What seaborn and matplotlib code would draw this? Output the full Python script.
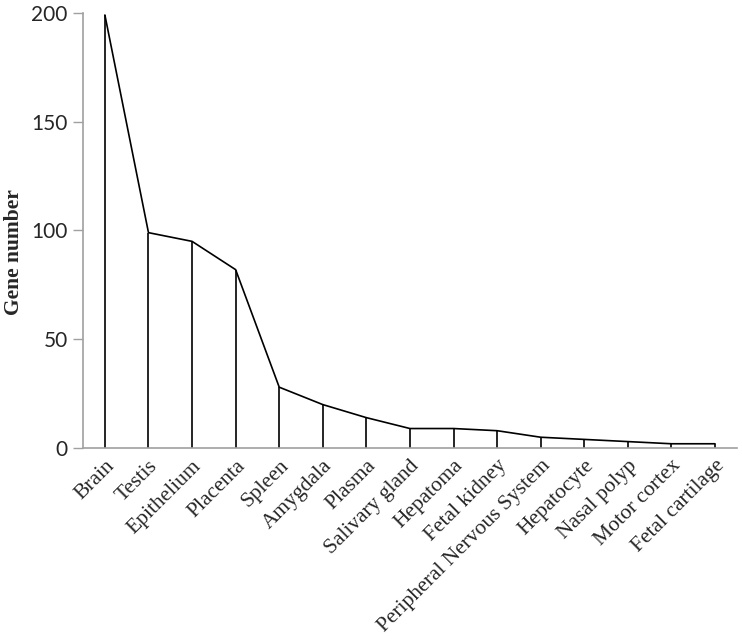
import numpy as np
import seaborn as sns
import matplotlib.pyplot as plt

tissues = ['Brain', 'Testis', 'Epithelium', 'Placenta', 'Spleen', 'Amygdala', 'Plasma',
           'Salivary gland', 'Hepatoma', 'Fetal kidney', 'Peripheral Nervous System',
           'Hepatocyte', 'Nasal polyp', 'Motor cortex', 'Fetal cartilage']
genes = [199, 99, 95, 82, 28, 20, 14, 9, 9, 8, 5, 4, 3, 2, 2]
y_ticks = [0, 50, 100, 150, 200]

sns.set_style('white')

fig = plt.figure(figsize=(7.42, 6.42), dpi=100)
ax = fig.add_axes([0.112, 0.302, 0.881, 0.678])

pos = np.arange(len(tissues))
sns.lineplot(x=pos, y=genes, ax=ax, color='black', linewidth=1.2, sort=False)
# drop lines from each point down to the axis
ax.vlines(pos, 0, genes, color='black', linewidth=1.2)

ax.set_xlim(-0.5, len(tissues) - 0.5)
ax.set_ylim(0, 200)
ax.set_yticks(y_ticks)
ax.set_yticklabels([str(t) for t in y_ticks], fontsize=15, family='Lato')
ax.set_xticks(pos)
ax.set_xticklabels(tissues, rotation=45, ha='right', rotation_mode='anchor',
                   fontsize=15.5, family='Liberation Serif')
ax.tick_params(axis='x', length=0, pad=6)
ax.tick_params(axis='y', length=7, width=1, color='#a0a0a0', direction='out', left=True, pad=4)

ax.set_ylabel('Gene number', fontsize=15.5, fontweight='bold', family='Liberation Serif')
ax.yaxis.set_label_coords(-0.09, 0.45)

for s in ['top', 'right']:
    ax.spines[s].set_visible(False)
for s in ['left', 'bottom']:
    ax.spines[s].set_color('#a0a0a0')
    ax.spines[s].set_linewidth(1.2)

fig.savefig('out.png', dpi=100)
